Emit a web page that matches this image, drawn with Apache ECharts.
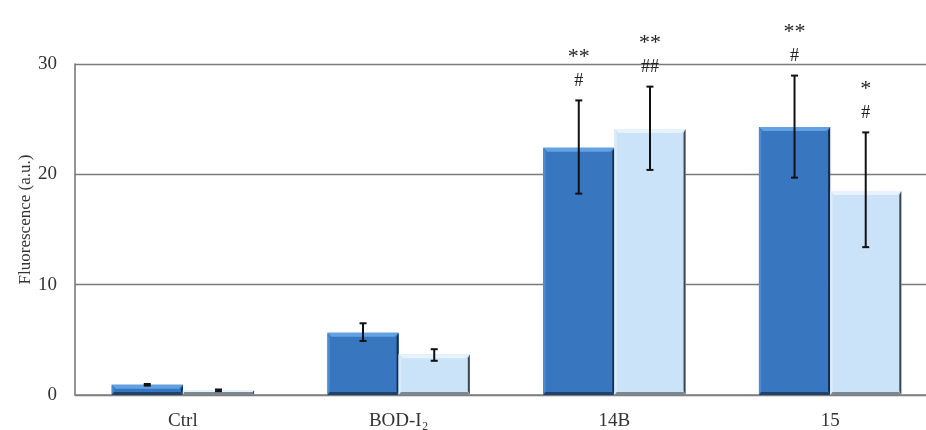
<!DOCTYPE html>
<html>
<head>
<meta charset="utf-8">
<title>Fluorescence</title>
<script src="https://cdn.jsdelivr.net/npm/echarts@6/dist/echarts.min.js"></script>
<style>
  html, body { margin: 0; padding: 0; background: #fff; }
  #chart { width: 926px; height: 430px; }
</style>
</head>
<body>
<div id="chart"></div>
<script>
// Groups along the x axis
const categories = ['Ctrl', 'BOD-I\u2082', '14B', '15'];

// Mean fluorescence, first (dark) and second (light) condition
const darkValues  = [0.93, 5.65, 22.4, 24.3];
const lightValues = [0.42, 3.7, 24.1, 18.5];

// Error bar ends (lower / upper)
const darkLow   = [0.85, 4.9, 18.25, 19.7];
const darkHigh  = [1.0, 6.5, 26.7, 28.95];
const lightLow  = [0.35, 3.1, 20.4, 13.4];
const lightHigh = [0.5, 4.15, 27.95, 23.8];

// Significance marks above each bar
const darkStars  = ['', '', '**', '**'];
const darkHash   = ['', '', '#', '#'];
const lightStars = ['', '', '**', '*'];
const lightHash  = ['', '', '##', '#'];

// Y axis ticks
const yTicks = [0, 10, 20, 30];

const FONT = '"Liberation Serif", "DejaVu Serif", serif';

const palettes = {
  dark:  { face: '#3877c0', top: '#62a2e2', left: '#4b8bd2', right: '#14294a', bottom: '#21406a' },
  light: { face: '#cbe3f8', top: '#e6f2fd', left: '#dcebfa', right: '#3c4550', bottom: '#7d8790' }
};

function makeRender(side, pal, stars, hashes) {
  return function (params, api) {
    const i = api.value(0);
    const v = api.value(1);
    const lo = api.value(2);
    const hi = api.value(3);
    const band = api.size([1, 0])[0];
    const bw = band * 0.33;
    const base = api.coord([i, 0]);
    const top = api.coord([i, v]);
    const x0 = side < 0 ? base[0] - bw : base[0];
    const x1 = x0 + bw;
    const y0 = top[1];
    const y1 = base[1];
    const h = y1 - y0;
    const b = Math.min(4, h / 2);
    const cx = (x0 + x1) / 2;

    const children = [
      { type: 'rect', shape: { x: x0, y: y0, width: bw, height: h }, style: { fill: pal.face } },
      { type: 'polygon', shape: { points: [[x0, y0], [x1, y0], [x1 - b, y0 + b], [x0 + b, y0 + b]] }, style: { fill: pal.top } },
      { type: 'polygon', shape: { points: [[x0, y0], [x0 + b * 0.6, y0 + b], [x0 + b * 0.6, y1 - b], [x0, y1]] }, style: { fill: pal.left } },
      { type: 'polygon', shape: { points: [[x1, y0], [x1, y1], [x1 - 2, y1 - b], [x1 - 2, y0 + b]] }, style: { fill: pal.right } },
      { type: 'polygon', shape: { points: [[x0, y1], [x1, y1], [x1 - 2, y1 - 3], [x0 + b * 0.6, y1 - 3]] }, style: { fill: pal.bottom } }
    ];

    const pHi = api.coord([i, hi]);
    const pLo = api.coord([i, lo]);
    const errStyle = { stroke: '#111', lineWidth: 2 };
    children.push(
      { type: 'line', shape: { x1: cx, y1: pHi[1], x2: cx, y2: pLo[1] }, style: errStyle },
      { type: 'line', shape: { x1: cx - 3.5, y1: pHi[1], x2: cx + 3.5, y2: pHi[1] }, style: errStyle },
      { type: 'line', shape: { x1: cx - 3.5, y1: pLo[1], x2: cx + 3.5, y2: pLo[1] }, style: errStyle }
    );

    const idx = params.dataIndex;
    if (hashes[idx]) {
      children.push({ type: 'text', x: cx, y: pHi[1] - 19,
        style: { text: hashes[idx], font: '18px ' + FONT, fill: '#222', align: 'center', verticalAlign: 'middle' } });
    }
    if (stars[idx]) {
      children.push({ type: 'text', x: cx, y: pHi[1] - 43,
        style: { text: stars[idx], font: '22px ' + FONT, fill: '#222', align: 'center', verticalAlign: 'middle' } });
    }
    return { type: 'group', children: children };
  };
}

function rows(values, low, high) {
  return values.map((v, i) => [i, v, low[i], high[i]]);
}

const chart = echarts.init(document.getElementById('chart'), null, { renderer: 'canvas' });
chart.setOption({
  animation: false,
  backgroundColor: '#fff',
  grid: { left: 75, width: 863, top: 64, bottom: 35, containLabel: false, outerBoundsMode: 'none' },
  xAxis: {
    type: 'category',
    data: categories,
    boundaryGap: true,
    axisLine: { lineStyle: { color: '#808080', width: 1.5 } },
    axisTick: { show: false },
    axisLabel: { margin: 17, color: '#333', fontFamily: FONT, fontSize: 19 }
  },
  yAxis: {
    type: 'value',
    min: yTicks[0],
    max: yTicks[yTicks.length - 1],
    interval: 10,
    name: 'Fluorescence (a.u.)',
    nameLocation: 'middle',
    nameGap: 41,
    nameRotate: 90,
    nameMoveOverlap: false,
    nameTextStyle: { color: '#333', fontFamily: FONT, fontSize: 17, padding: [0, 0, 0, 20] },
    axisLine: { show: true, lineStyle: { color: '#707070', width: 1.5 } },
    axisTick: { show: false },
    axisLabel: { margin: 18, color: '#333', fontFamily: FONT, fontSize: 19 },
    splitLine: { show: true, lineStyle: { color: '#7a7a7a', width: 1.3 } }
  },
  series: [
    {
      type: 'custom',
      name: 'dark',
      renderItem: makeRender(-1, palettes.dark, darkStars, darkHash),
      encode: { x: 0, y: 1 },
      data: rows(darkValues, darkLow, darkHigh),
      z: 3
    },
    {
      type: 'custom',
      name: 'light',
      renderItem: makeRender(1, palettes.light, lightStars, lightHash),
      encode: { x: 0, y: 1 },
      data: rows(lightValues, lightLow, lightHigh),
      z: 3
    }
  ]
});
</script>
</body>
</html>
